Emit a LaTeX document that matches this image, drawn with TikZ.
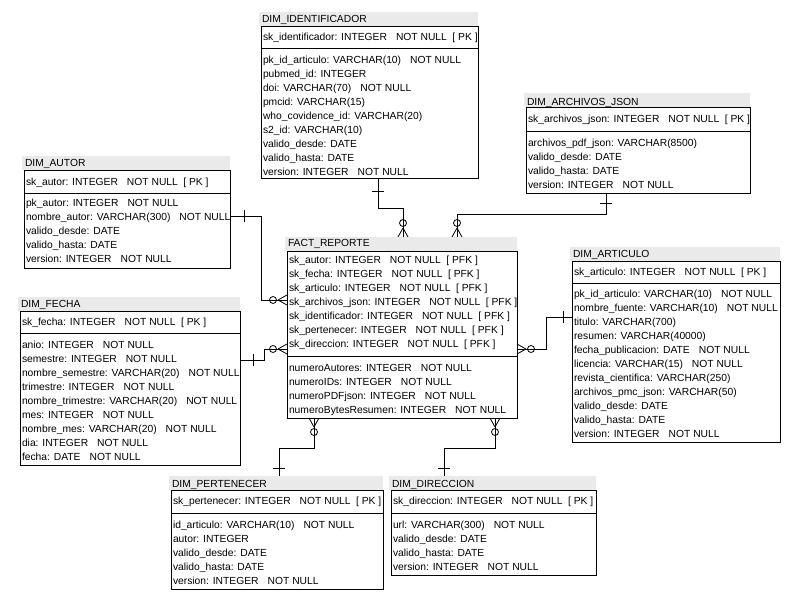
\documentclass[tikz,border=0pt]{standalone}
\usepackage{fontspec}
\setmainfont{Liberation Sans}
\definecolor{hdrgray}{RGB}{234,234,234}
% spacing between column type, constraint and key flag
\newcommand{\gp}{\hspace{9pt}}
\newcommand{\gq}{\hspace{5.5pt}}
% one text node per row, 14pt apart: name prefix, x, first baseline, rows
\newcommand{\rowlist}[4]{%
  \foreach \t [count=\i from 0] in {#4}
    \node[row] (#1\i) at (#2,{#3+14*\i}) {\t};}
\begin{document}
\begin{tikzpicture}[x=1pt,y=-1pt,
  every node/.style={inner sep=0pt,outer sep=0pt},
  row/.style={anchor=base west,font=\fontsize{10.3}{12}\selectfont},
  hdr/.style={fill=hdrgray,anchor=south west,minimum height=14pt},
  tbox/.style={draw=black,line width=0.8pt,anchor=north west,fill=white},
  conn/.style={line width=0.8pt,line cap=rect},
  crowfoot/.pic={
    \draw[line width=0.8pt] (9,0) -- (0,5) (9,0) -- (0,-5);
    \draw[line width=0.8pt] (14,0) circle (3.5);
  },
  onetick/.pic={\draw[line width=0.8pt] (0,-6) -- (0,6);}
]
\useasboundingbox[fill=white] (0,0) rectangle (796,601);

% ---------------- DIM_IDENTIFICADOR
\node[hdr,minimum width=219pt] (identH) at (259,26) {};
\node[row] (identT) at (262,23) {DIM\_IDENTIFICADOR};
\node[tbox,minimum width=217pt,minimum height=152pt] (ident) at (261,26) {};
\draw[line width=0.8pt] (ident.west |- 0,48) -- (ident.east |- 0,48);
\node[row] (identK) at (263,41) {sk\_identificador: INTEGER\gp NOT NULL\gq [ PK ]};
\rowlist{identA}{263}{64}{{pk\_id\_articulo: VARCHAR(10)\gp NOT NULL},{pubmed\_id: INTEGER},{doi: VARCHAR(70)\gp NOT NULL},{pmcid: VARCHAR(15)},{who\_covidence\_id: VARCHAR(20)},{s2\_id: VARCHAR(10)},{valido\_desde: DATE},{valido\_hasta: DATE},{version: INTEGER\gp NOT NULL}}

% ---------------- DIM_ARCHIVOS_JSON
\node[hdr,minimum width=226pt] (archH) at (524,107) {};
\node[row] (archT) at (527,106) {DIM\_ARCHIVOS\_JSON};
\node[tbox,minimum width=224pt,minimum height=86pt] (arch) at (526,107) {};
\draw[line width=0.8pt] (arch.west |- 0,131) -- (arch.east |- 0,131);
\node[row] (archK) at (528,123) {sk\_archivos\_json: INTEGER\gp NOT NULL\gq [ PK ]};
\rowlist{archA}{528}{147}{{archivos\_pdf\_json: VARCHAR(8500)},{valido\_desde: DATE},{valido\_hasta: DATE},{version: INTEGER\gp NOT NULL}}

% ---------------- DIM_AUTOR
\node[hdr,minimum width=208pt] (autorH) at (22,170) {};
\node[row] (autorT) at (25,167) {DIM\_AUTOR};
\node[tbox,minimum width=206pt,minimum height=98pt] (autor) at (24,170) {};
\draw[line width=0.8pt] (autor.west |- 0,193) -- (autor.east |- 0,193);
\node[row] (autorK) at (26,186) {sk\_autor: INTEGER\gp NOT NULL\gq [ PK ]};
\rowlist{autorA}{26}{207}{{pk\_autor: INTEGER\gp NOT NULL},{nombre\_autor: VARCHAR(300)\gp NOT NULL},{valido\_desde: DATE},{valido\_hasta: DATE},{version: INTEGER\gp NOT NULL}}

% ---------------- DIM_FECHA
\node[hdr,minimum width=222pt] (fechaH) at (18,311) {};
\node[row] (fechaT) at (21,308) {DIM\_FECHA};
\node[tbox,minimum width=220pt,minimum height=154pt] (fecha) at (20,311) {};
\draw[line width=0.8pt] (fecha.west |- 0,333) -- (fecha.east |- 0,333);
\node[row] (fechaK) at (22,326) {sk\_fecha: INTEGER\gp NOT NULL\gq [ PK ]};
\rowlist{fechaA}{22}{349}{{anio: INTEGER\gp NOT NULL},{semestre: INTEGER\gp NOT NULL},{nombre\_semestre: VARCHAR(20)\gp NOT NULL},{trimestre: INTEGER\gp NOT NULL},{nombre\_trimestre: VARCHAR(20)\gp NOT NULL},{mes: INTEGER\gp NOT NULL},{nombre\_mes: VARCHAR(20)\gp NOT NULL},{dia: INTEGER\gp NOT NULL},{fecha: DATE\gp NOT NULL}}

% ---------------- FACT_REPORTE
\node[hdr,minimum width=232pt] (factH) at (285,251) {};
\node[row] (factT) at (288,247) {FACT\_REPORTE};
\node[tbox,minimum width=230pt,minimum height=167pt] (fact) at (287,251) {};
\draw[line width=0.8pt] (fact.west |- 0,356) -- (fact.east |- 0,356);
\rowlist{factK}{289}{264}{{sk\_autor: INTEGER\gp NOT NULL\gq [ PFK ]},{sk\_fecha: INTEGER\gp NOT NULL\gq [ PFK ]},{sk\_articulo: INTEGER\gp NOT NULL\gq [ PFK ]},{sk\_archivos\_json: INTEGER\gp NOT NULL\gq [ PFK ]},{sk\_identificador: INTEGER\gp NOT NULL\gq [ PFK ]},{sk\_pertenecer: INTEGER\gp NOT NULL\gq [ PFK ]},{sk\_direccion: INTEGER\gp NOT NULL\gq [ PFK ]}}
\rowlist{factA}{289}{372}{{numeroAutores: INTEGER\gp NOT NULL},{numeroIDs: INTEGER\gp NOT NULL},{numeroPDFjson: INTEGER\gp NOT NULL},{numeroBytesResumen: INTEGER\gp NOT NULL}}

% ---------------- DIM_ARTICULO
\node[hdr,minimum width=210pt] (artH) at (570,261) {};
\node[row] (artT) at (573,258) {DIM\_ARTICULO};
\node[tbox,minimum width=208pt,minimum height=181pt] (art) at (572,261) {};
\draw[line width=0.8pt] (art.west |- 0,283) -- (art.east |- 0,283);
\node[row] (artK) at (574,276) {sk\_articulo: INTEGER\gp NOT NULL\gq [ PK ]};
\rowlist{artA}{574}{298}{{pk\_id\_articulo: VARCHAR(10)\gp NOT NULL},{nombre\_fuente: VARCHAR(10)\gp NOT NULL},{titulo: VARCHAR(700)},{resumen: VARCHAR(40000)},{fecha\_publicacion: DATE\gp NOT NULL},{licencia: VARCHAR(15)\gp NOT NULL},{revista\_cientifica: VARCHAR(250)},{archivos\_pmc\_json: VARCHAR(50)},{valido\_desde: DATE},{valido\_hasta: DATE},{version: INTEGER\gp NOT NULL}}

% ---------------- DIM_PERTENECER
\node[hdr,minimum width=214pt] (pertH) at (169,490) {};
\node[row] (pertT) at (172,488) {DIM\_PERTENECER};
\node[tbox,minimum width=212pt,minimum height=99pt] (pert) at (171,490) {};
\draw[line width=0.8pt] (pert.west |- 0,513) -- (pert.east |- 0,513);
\node[row] (pertK) at (173,505) {sk\_pertenecer: INTEGER\gp NOT NULL\gq [ PK ]};
\rowlist{pertA}{173}{529}{{id\_articulo: VARCHAR(10)\gp NOT NULL},{autor: INTEGER},{valido\_desde: DATE},{valido\_hasta: DATE},{version: INTEGER\gp NOT NULL}}

% ---------------- DIM_DIRECCION
\node[hdr,minimum width=207pt] (dirH) at (389,490) {};
\node[row] (dirT) at (392,488) {DIM\_DIRECCION};
\node[tbox,minimum width=205pt,minimum height=85pt] (dir) at (391,490) {};
\draw[line width=0.8pt] (dir.west |- 0,513) -- (dir.east |- 0,513);
\node[row] (dirK) at (393,505) {sk\_direccion: INTEGER\gp NOT NULL\gq [ PK ]};
\rowlist{dirA}{393}{529}{{url: VARCHAR(300)\gp NOT NULL},{valido\_desde: DATE},{valido\_hasta: DATE},{version: INTEGER\gp NOT NULL}}

% ---------------- relationships (one side: tick, many side: circle + crow's foot)
% identificador -> reporte
\draw[conn] (378,0 |- ident.south) |- (403,208) -- (403,0 |- factH.north);
\pic[rotate=90] at (378,191) {onetick};
\pic[rotate=90] at (403,0 |- factH.north) {crowfoot};
% archivos_json -> reporte
\draw[conn] (606,0 |- arch.south) |- (457,214) -- (457,0 |- factH.north);
\pic[rotate=90] at (606,203) {onetick};
\pic[rotate=90] at (457,0 |- factH.north) {crowfoot};
% autor -> reporte
\draw[conn] (autor.east |- 0,216) -| (261,300) -- (fact.west |- 0,300);
\pic at (244,216) {onetick};
\pic[rotate=180] at (fact.west |- 0,300) {crowfoot};
% fecha -> reporte
\draw[conn] (fecha.east |- 0,360) -| (264,349) -- (fact.west |- 0,349);
\pic at (253,360) {onetick};
\pic[rotate=180] at (fact.west |- 0,349) {crowfoot};
% articulo -> reporte
\draw[conn] (fact.east |- 0,349) -| (546,317) -- (art.west |- 0,317);
\pic at (563,317) {onetick};
\pic at (fact.east |- 0,349) {crowfoot};
% pertenecer -> reporte
\draw[conn] (314,0 |- fact.south) |- (279,448) -- (279,0 |- pertH.north);
\pic[rotate=90] at (279,468) {onetick};
\pic[rotate=-90] at (314,0 |- fact.south) {crowfoot};
% direccion -> reporte
\draw[conn] (495,0 |- fact.south) |- (444,448) -- (444,0 |- dirH.north);
\pic[rotate=90] at (444,468) {onetick};
\pic[rotate=-90] at (495,0 |- fact.south) {crowfoot};
\end{tikzpicture}
\end{document}
